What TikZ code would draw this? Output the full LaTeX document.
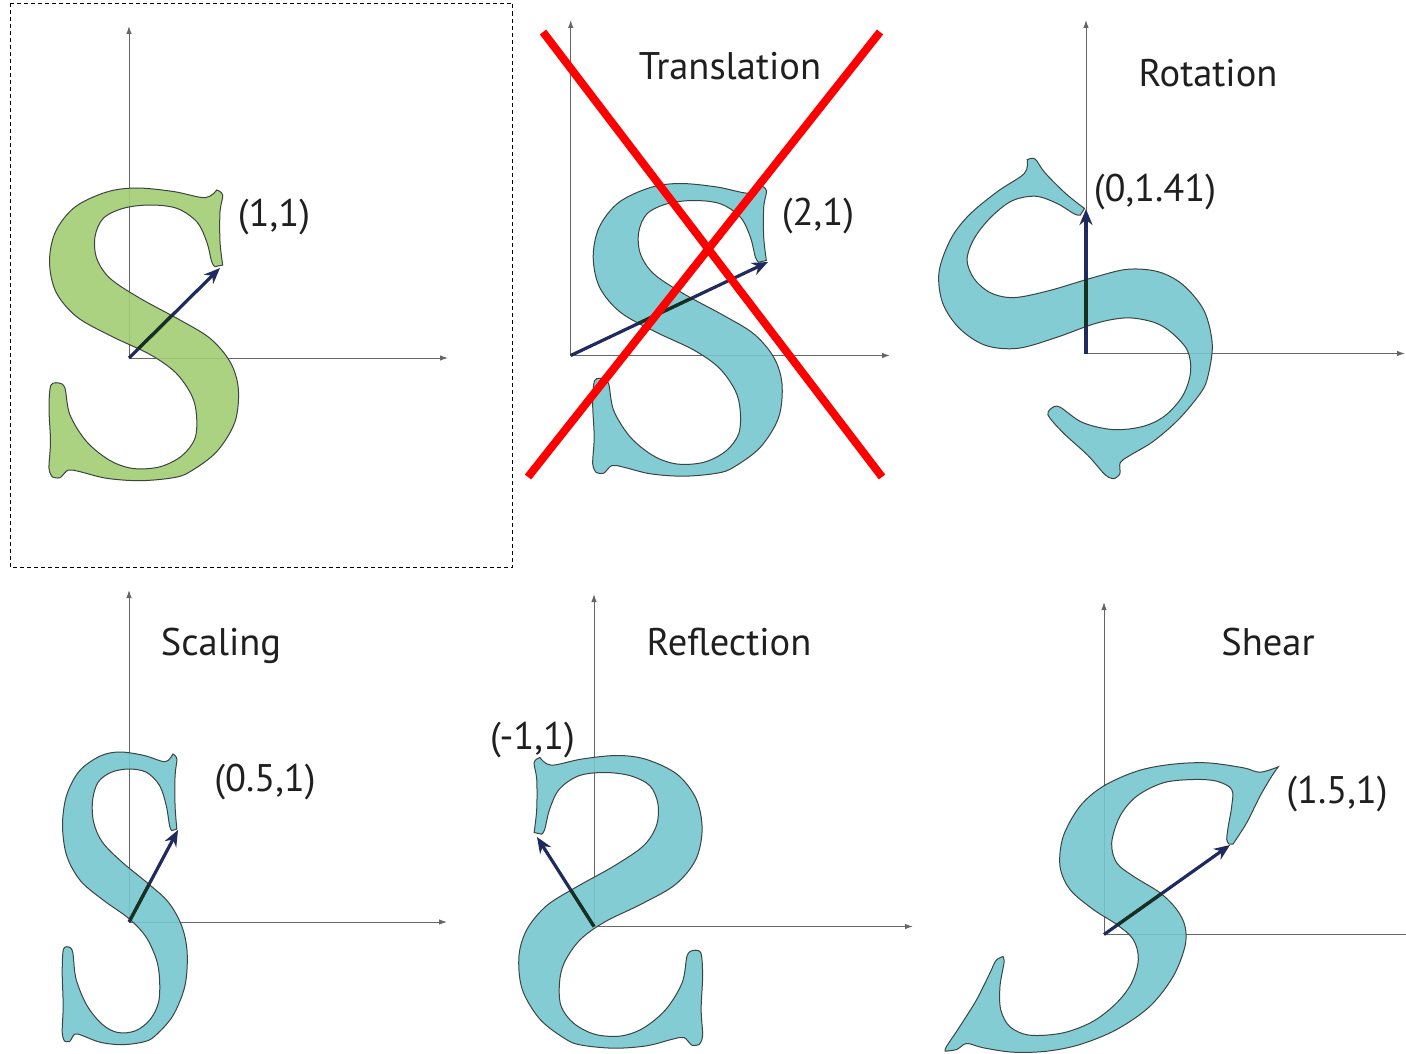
\documentclass[tikz,border=0pt]{standalone}
\usepackage{fontspec}
\setmainfont{PT Sans}
\usetikzlibrary{arrows.meta}
\definecolor{sgreen}{HTML}{A2CD72}
\definecolor{scyan}{HTML}{76C6CF}
\definecolor{sline}{HTML}{3A4442}
\definecolor{navy}{HTML}{1F2A5E}
\definecolor{darkin}{HTML}{17301F}
\definecolor{axisgray}{HTML}{666666}
\newcommand\Sone{plot[smooth,tension=0.55] coordinates {(93.7,93) (91,116.3) (91,146.3) (93.7,163) (87.7,168)}
 -- plot[smooth,tension=0.55] coordinates {(87.7,168) (76,160.3) (44.3,166.5) (7.7,170) (-22.3,166) (-54,151) (-73.5,126.3) (-79.5,96.3) (-73,66) (-52,41) (-17,21.5) (21,3.5) (46.5,-14.5) (62.5,-37) (67.5,-57) (66,-80.3) (53,-97.7) (31,-108.8) (4.3,-110.5) (-19,-102.5) (-42.3,-83.7) (-59,-57) (-64,-30.3) (-69,-25.3)}
 -- plot[smooth,tension=0.55] coordinates {(-69,-25.3) (-78,-27) (-80,-50.3) (-78.5,-83.7) (-80,-110.3) (-76.5,-119)}
 -- plot[smooth,tension=0.55] coordinates {(-76.5,-119) (-69,-119.7) (-60.7,-112) (-49,-113.7) (-22.3,-120.3) (11,-122.7) (44.3,-119.7) (61,-113.7) (87.7,-93.7) (106,-63.7) (109.3,-30.3) (101,-3.7) (81,19.7) (51,38) (11,59.7) (-19,79.7) (-32.3,99.7) (-34,121.3) (-25.7,139.7) (-5.7,149.7) (21,153) (47.7,149.7) (67.7,136.3) (77.7,116.3) (82.7,96.3) (86,91.3)}
 -- cycle}
\newcommand\Sshear{plot[smooth,tension=0.55] coordinates {(129,90.5) (142.7,111.7) (156,138.3) (167.7,158.3) (174.3,167.7)}
 -- plot[smooth,tension=0.55] coordinates {(174.3,167.7) (156,162.3) (139.3,166.7) (102.7,171.7) (66,170) (32.7,163.3) (-0.7,148.3) (-24,128.3) (-40.7,98.3) (-44,68.3) (-34,45) (-10.7,25) (12.7,10) (29.3,-5) (34.3,-25) (27.7,-48.3) (12.7,-68.3) (-10.7,-86.7) (-40.7,-98.3) (-74,-100.7) (-94,-92.3) (-103.3,-75) (-104,-51.7) (-100,-28.3) (-101,-22)}
 -- plot[smooth,tension=0.55] coordinates {(-101,-22) (-108,-26) (-114,-38.3) (-127.3,-65) (-144,-91.7) (-157.3,-111.7) (-159,-116.7)}
 -- plot[smooth,tension=0.55] coordinates {(-159,-116.7) (-147.3,-115) (-137.3,-109) (-120.7,-113.3) (-90.7,-117.7) (-57.3,-116.7) (-24,-110) (12.7,-95) (46,-71.7) (69.3,-41.7) (81,-11.7) (81,8.3) (72.7,25) (56,41.7) (29.3,58.3) (12.7,71.7) (7.7,91.7) (16,118.3) (32.7,138.3) (59.3,151.7) (89.3,155) (112.7,153.3) (127.7,145) (127.7,128.3) (124.3,108.3) (122.7,95) (125,90.5)}
 -- cycle}
\begin{document}
\begin{tikzpicture}[x=1pt,y=1pt,
  axisline/.style={draw=axisgray, line width=1pt, -{Latex[length=8pt,width=5.5pt]}},
  axisplain/.style={draw=axisgray, line width=1pt},
  vecarrow/.style={draw=navy, line width=3.2pt, -{Stealth[length=16pt,width=13pt]}},
  glyph/.style={draw=sline, line width=1pt, fill opacity=0.9},
  innerseg/.style={draw=darkin, line width=3.2pt, shorten >=15pt},
  lbl/.style={font=\fontsize{38.5}{40}\selectfont, inner sep=0pt, text=black!88},
  crossline/.style={draw=red, line width=8pt},
  dashbox/.style={draw=black, line width=0.8pt, dash pattern=on 4pt off 3pt}]
\useasboundingbox (0,0) rectangle (1406,-1054);

% ---------- panel 1 ----------
\coordinate (bA) at (10.5,-3);
\coordinate (bB) at (512,-567);
\draw[dashbox] (bA) rectangle (bB);
\coordinate (o1) at (129,-358);
\coordinate (x1) at (448,-358);
\coordinate (y1) at (129,-26);
\coordinate (t1) at (220,-268);
\draw[axisline] (o1) -- (x1);
\draw[axisline] (o1) -- (y1);
\begin{scope}[shift={(o1)}]
  \filldraw[glyph, fill=sgreen] \Sone;
\end{scope}
\draw[vecarrow] (o1) -- (t1);
\begin{scope}[shift={(o1)}]
  \clip \Sone;
  \draw[innerseg] (o1) -- (t1);
\end{scope}
\node[lbl] (l1) at (274,-217) {(1,1)};

% ---------- panel 2 ----------
\coordinate (o2) at (570.7,-355.5);
\coordinate (x2) at (890,-355.5);
\coordinate (y2) at (570.7,-20);
\coordinate (t2) at (768,-262);
\draw[axisline] (o2) -- (x2);
\draw[axisline] (o2) -- (y2);
\begin{scope}[shift={(o2)}, cm={1,0,0,1,(102,2)}]
  \filldraw[glyph, fill=scyan] \Sone;
\end{scope}
\draw[vecarrow] (o2) -- (t2);
\begin{scope}[shift={(o2)}, cm={1,0,0,1,(102,2)}]
  \clip \Sone;
  \draw[innerseg] (o2) -- (t2);
\end{scope}
\node[lbl, anchor=base] (ttrans) at (730,-80) {Translation};
\node[lbl] (l2) at (818,-216) {(2,1)};
\coordinate (r1a) at (543,-32);
\coordinate (r1b) at (882,-477);
\coordinate (r2a) at (880,-32);
\coordinate (r2b) at (528,-477);
\draw[crossline] (r1a) -- (r1b);
\draw[crossline] (r2a) -- (r2b);

% ---------- panel 3 ----------
\coordinate (o3) at (1086,-353.5);
\coordinate (x3) at (1405,-353.5);
\coordinate (y3) at (1086,-20);
\coordinate (t3) at (1086,-209);
\draw[axisline] (o3) -- (x3);
\draw[axisline] (o3) -- (y3);
\begin{scope}[shift={(o3)}, cm={0.7071,0.7071,-0.7071,0.7071,(-2,13)}]
  \filldraw[glyph, fill=scyan] \Sone;
\end{scope}
\draw[vecarrow] (o3) -- (t3);
\begin{scope}[shift={(o3)}, cm={0.7071,0.7071,-0.7071,0.7071,(-2,13)}]
  \clip \Sone;
  \draw[innerseg] (o3) -- (t3);
\end{scope}
\node[lbl, anchor=base] (trot) at (1208,-87) {Rotation};
\node[lbl] (l3) at (1155,-192) {(0,1.41)};

% ---------- panel 4 ----------
\coordinate (o4) at (129,-922);
\coordinate (x4) at (447,-922);
\coordinate (y4) at (129,-590);
\coordinate (t4) at (178,-830);
\draw[axisline] (o4) -- (x4);
\draw[axisline] (o4) -- (y4);
\begin{scope}[shift={(o4)}, cm={0.66,0,0,1,(-14,0)}]
  \filldraw[glyph, fill=scyan] \Sone;
\end{scope}
\draw[vecarrow] (o4) -- (t4);
\begin{scope}[shift={(o4)}, cm={0.66,0,0,1,(-14,0)}]
  \clip \Sone;
  \draw[innerseg] (o4) -- (t4);
\end{scope}
\node[lbl, anchor=base] (tscal) at (221,-655) {Scaling};
\node[lbl] (l4) at (265,-782) {(0.5,1)};

% ---------- panel 5 ----------
\coordinate (o5) at (594,-926.5);
\coordinate (x5) at (913,-926.5);
\coordinate (y5) at (594,-594);
\coordinate (t5) at (537,-837);
\draw[axisline] (o5) -- (x5);
\draw[axisline] (o5) -- (y5);
\begin{scope}[shift={(o5)}, cm={-0.97,0,0,1,(31,1)}]
  \filldraw[glyph, fill=scyan] \Sone;
\end{scope}
\draw[vecarrow] (o5) -- (t5);
\begin{scope}[shift={(o5)}, cm={-0.97,0,0,1,(31,1)}]
  \clip \Sone;
  \draw[innerseg] (o5) -- (t5);
\end{scope}
\node[lbl, anchor=base] (trefl) at (729,-655) {Reflection};
\node[lbl] (l5) at (532.5,-740) {(-1,1)};

% ---------- panel 6 ----------
\coordinate (o6) at (1104,-934.5);
\coordinate (x6) at (1406,-934.5);
\coordinate (y6) at (1104,-602);
\coordinate (t6) at (1230,-845);
\draw[axisplain] (o6) -- (x6);
\draw[axisline] (o6) -- (y6);
\begin{scope}[shift={(o6)}]
  \filldraw[glyph, fill=scyan] \Sshear;
\end{scope}
\draw[vecarrow] (o6) -- (t6);
\begin{scope}[shift={(o6)}]
  \clip \Sshear;
  \draw[innerseg] (o6) -- (t6);
\end{scope}
\node[lbl, anchor=base] (tshear) at (1268,-655) {Shear};
\node[lbl] (l6) at (1337,-794) {(1.5,1)};
\end{tikzpicture}
\end{document}
